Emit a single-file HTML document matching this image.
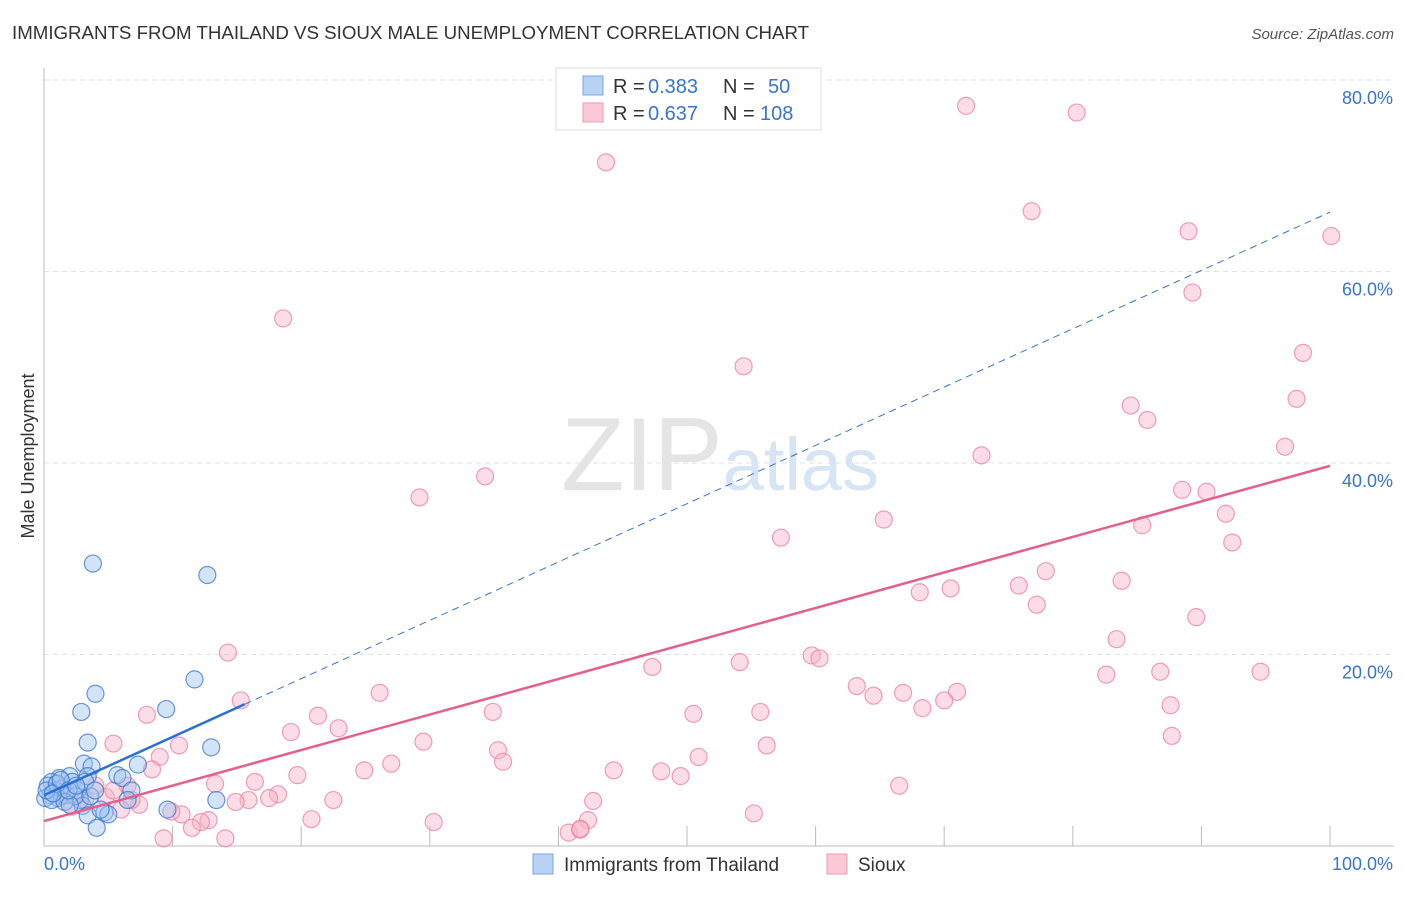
<!DOCTYPE html>
<html><head><meta charset="utf-8"><style>
body{margin:0;background:#fff;font-family:"Liberation Sans",sans-serif;}
svg text{font-family:"Liberation Sans",sans-serif;}
</style></head><body>
<svg id="chart" width="1406" height="892" xmlns="http://www.w3.org/2000/svg">
<text x="12" y="39" font-size="18.7" fill="#333">IMMIGRANTS FROM THAILAND VS SIOUX MALE UNEMPLOYMENT CORRELATION CHART</text>
<text x="1394" y="39" font-size="15" fill="#555" text-anchor="end" font-style="italic">Source: ZipAtlas.com</text>
<text x="720" y="490" font-size="104" fill="#e4e4e4" text-anchor="middle" font-family="Liberation Serif">ZIP<tspan fill="#d6e4f3" font-family="Liberation Sans" font-size="74">atlas</tspan></text>
<g id="grid"></g><g id="axes"></g><g id="pts"></g><g id="lines"></g>
<text transform="translate(34,456) rotate(-90)" font-size="18" fill="#333" text-anchor="middle">Male Unemployment</text>
<g>
<rect x="556" y="68" width="265" height="62" fill="#fff" stroke="#ddd"/>
<rect x="583" y="76" width="20" height="19" fill="#b9d3f5" stroke="#7aa6e0"/>
<rect x="583" y="103" width="20" height="19" fill="#fbc8d6" stroke="#ec9ab2"/>
<text x="613" y="93" font-size="20" fill="#333">R =</text>
<text x="648" y="93" font-size="20" fill="#3a74cc">0.383</text>
<text x="723" y="93" font-size="20" fill="#333">N =</text>
<text x="768" y="93" font-size="20" fill="#3a74cc">50</text>
<text x="613" y="120" font-size="20" fill="#333">R =</text>
<text x="648" y="120" font-size="20" fill="#3a74cc">0.637</text>
<text x="723" y="120" font-size="20" fill="#333">N =</text>
<text x="760" y="120" font-size="20" fill="#3a74cc">108</text>
</g>
<g>
<rect x="533" y="854" width="20" height="20" fill="#b9d3f5" stroke="#7aa6e0"/>
<text x="564" y="871" font-size="19" fill="#333">Immigrants from Thailand</text>
<rect x="827" y="854" width="20" height="20" fill="#fbc8d6" stroke="#ec9ab2"/>
<text x="858" y="871" font-size="19" fill="#333">Sioux</text>
</g>
</svg>
<script>
const yTicks=[20,40,60,80];
const yTickLabels=["20.0%","40.0%","60.0%","80.0%"];
const xTicks=[0,10,20,30,40,50,60,70,80,90,100];
const blueX=[3.8,12.7,4.0,11.7,2.9,9.5,3.4,13.0,3.1,3.7,7.3,5.7,6.1,1.2,2.0,3.4,0.6,0.3,0.9,1.4,2.2,2.6,6.8,6.5,13.4,9.6,2.8,3.0,4.7,5.0,3.4,4.1,0.5,1.1,1.7,0.1,0.6,2.4,1.6,3.6,0.2,1.0,4.4,2.0,3.2,0.7,1.3,1.9,2.5,3.97];
const blueY=[29.5,28.3,15.9,17.4,14.0,14.3,10.8,10.3,8.6,8.3,8.5,7.4,7.1,7.1,7.3,7.3,6.7,6.3,5.8,6.0,6.7,5.8,5.8,4.8,4.8,3.8,4.8,4.2,3.5,3.3,3.2,1.9,5.3,5.0,5.3,5.0,4.8,5.2,4.6,5.2,5.8,6.5,3.8,4.3,6.7,5.5,6.9,5.8,6.3,5.8];
const pinkX=[71.7,80.3,43.7,76.8,89.0,100.1,89.3,18.6,97.9,54.4,84.5,85.8,97.4,96.5,72.9,34.3,29.2,88.5,90.4,91.9,65.3,85.4,92.4,57.3,77.9,83.8,75.8,68.1,70.5,77.2,89.6,83.4,14.3,59.7,60.3,54.1,47.3,82.6,86.8,94.6,63.2,64.5,66.8,71.0,70.0,68.3,26.1,15.3,87.6,55.7,34.9,50.5,8.0,21.3,22.9,19.2,10.5,5.4,56.2,87.7,29.5,35.3,35.7,50.9,9.0,8.4,27.0,24.9,44.3,19.7,16.4,48.0,49.5,13.3,6.5,66.5,18.2,17.5,15.9,14.9,7.4,6.8,6.0,22.5,42.7,10.7,9.9,12.8,12.2,20.8,30.3,42.3,55.2,11.5,9.3,14.1,40.8,41.7,41.7,4.8,5.4,2.2,1.4,3.2,4.0];
const pinkY=[77.3,76.6,71.4,66.3,64.2,63.7,57.8,55.1,51.5,50.1,46.0,44.5,46.7,41.7,40.8,38.6,36.4,37.2,37.0,34.7,34.1,33.5,31.7,32.2,28.7,27.7,27.2,26.5,26.9,25.2,23.9,21.6,20.2,19.9,19.6,19.2,18.7,17.9,18.2,18.2,16.7,15.7,16.0,16.1,15.2,14.4,16.0,15.2,14.7,14.0,14.0,13.8,13.7,13.6,12.3,11.9,10.5,10.7,10.5,11.5,10.9,10.0,8.8,9.3,9.3,8.0,8.6,7.9,7.9,7.4,6.7,7.8,7.3,6.5,6.3,6.3,5.4,5.0,4.8,4.6,4.3,4.8,3.8,4.8,4.7,3.3,3.6,2.7,2.5,2.8,2.5,2.7,3.4,1.9,0.8,0.8,1.4,1.7,1.8,5.1,5.8,4.1,5.2,4.8,6.3];
const blueTrend=[5.3,66.2];
const pinkTrend=[2.6,39.7];
const NS="http://www.w3.org/2000/svg";
const X=v=>44+v*12.86, Y=v=>846-v*9.575;
function mk(tag,attrs,parent){const e=document.createElementNS(NS,tag);for(const k in attrs)e.setAttribute(k,attrs[k]);document.getElementById(parent).appendChild(e);return e;}
yTicks.forEach((t,i)=>{
 const g=mk('line',{x1:44,x2:1394,y1:Y(t),y2:Y(t),stroke:'#e2e2e2','stroke-dasharray':'5,4'},'grid');
 
 
 const tx=mk('text',{x:1393,y:Y(t)+24,'font-size':18,fill:'#3a74cc','text-anchor':'end'},'axes');
 tx.textContent=yTickLabels[i];
 
 
});
const ax=mk('line',{x1:44,x2:44,y1:68,y2:846,stroke:'#bbb'},'axes');


const bx=mk('line',{x1:44,x2:1394,y1:846,y2:846,stroke:'#bbb'},'axes');


xTicks.forEach(t=>{
 const l=mk('line',{x1:X(t),x2:X(t),y1:826,y2:846,stroke:'#bbb'},'axes');
 
 
});
const x0=mk('text',{x:44,y:870,'font-size':18,fill:'#3a74cc'},'axes');x0.textContent='0.0%';


const x1=mk('text',{x:1393,y:870,'font-size':18,fill:'#3a74cc','text-anchor':'end'},'axes');x1.textContent='100.0%';


pinkX.forEach((v,i)=>{
 const c=mk('circle',{cx:X(v),cy:Y(pinkY[i]),r:8.5,fill:'rgba(248,177,199,0.45)',stroke:'rgba(232,130,160,0.75)','stroke-width':1.2},'pts');
 
 
});
blueX.forEach((v,i)=>{
 const c=mk('circle',{cx:X(v),cy:Y(blueY[i]),r:8.5,fill:'rgba(160,195,240,0.45)',stroke:'rgba(58,116,204,0.75)','stroke-width':1.2},'pts');
 
 
});
const bAt=x=>blueTrend[0]+(blueTrend[1]-blueTrend[0])*x/100;
const bd=mk('line',{x1:X(15.6),y1:Y(bAt(15.6)),x2:X(100),y2:Y(bAt(100)),stroke:'#3a74cc','stroke-width':1,'stroke-dasharray':'7,5'},'lines');


const bs=mk('line',{x1:X(0),y1:Y(bAt(0)),x2:X(15.6),y2:Y(bAt(15.6)),stroke:'#2a6fd6','stroke-width':2.5},'lines');


const ps=mk('line',{x1:X(0),y1:Y(pinkTrend[0]),x2:X(100),y2:Y(pinkTrend[1]),stroke:'#e4608a','stroke-width':2.5},'lines');


</script>
</body></html>
